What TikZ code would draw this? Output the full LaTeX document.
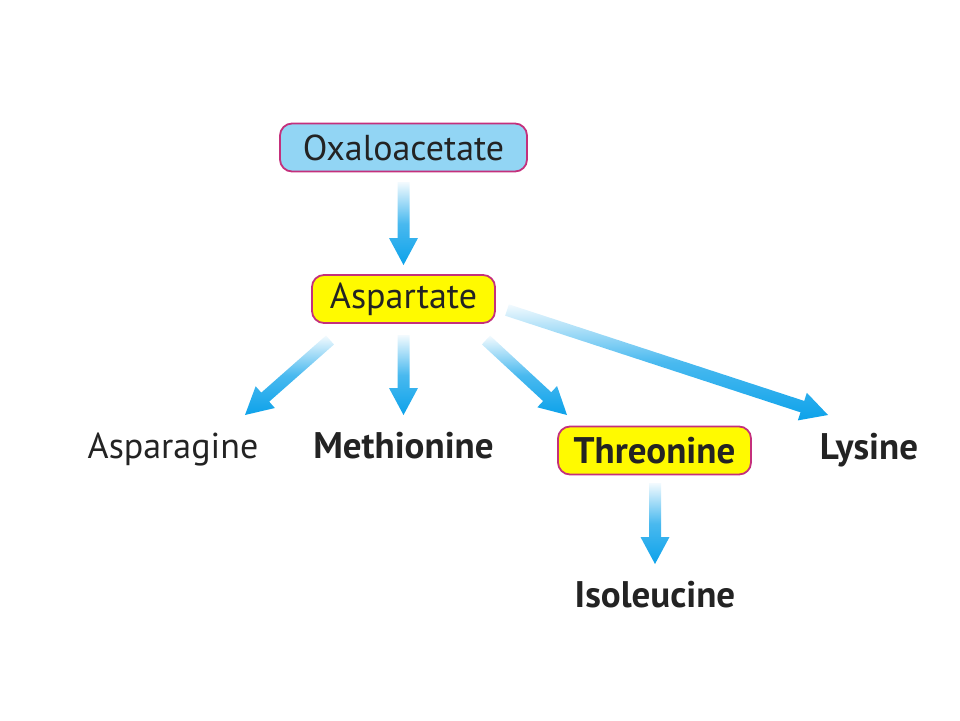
\documentclass[tikz,border=0pt]{standalone}
\usepackage{fontspec}
\setmainfont{PT Sans}
\usetikzlibrary{calc,positioning}
\definecolor{boxline}{HTML}{C4307C}
\definecolor{oxafill}{HTML}{92D5F4}
\definecolor{aspfill}{HTML}{FFFA00}
\definecolor{arrowblue}{HTML}{0DA2EA}
\definecolor{txt}{HTML}{232323}
\tikzset{
	every picture/.style={font=\fontsize{36}{42}\selectfont, text=txt},
	metabox/.style={draw=boxline, line width=1.8pt, rounded corners=12pt, minimum height=48pt, inner xsep=10pt},
	product/.style={inner sep=0pt, font=\fontsize{37}{42}\selectfont\bfseries}
}
% shaded block arrow from #1 to #2, #3 = shading angle
\newcommand{\gradarrow}[3]{%
	\coordinate (hb) at ($(#2)!27pt!(#1)$);
	\path[shade, shading angle=#3, top color=arrowblue!5, bottom color=arrowblue, middle color=arrowblue!75]
		($(#1)!6pt!-90:(#2)$) -- ($(hb)!6pt!90:(#1)$) -- ($(hb)!14.5pt!90:(#1)$) -- (#2)
		-- ($(hb)!14.5pt!-90:(#1)$) -- ($(hb)!6pt!-90:(#1)$) -- ($(#1)!6pt!90:(#2)$) -- cycle;
}

\begin{document}
\begin{tikzpicture}
		[x=1pt, y=-1pt]
		
		\useasboundingbox (0, 0) rectangle (960, 720);
		
		% boxes ----------------------------------------------
		\node[metabox, fill=oxafill, minimum width=247pt] (oxa) at (403.5, 147.5) {Oxaloacetate};
		\node[metabox, fill=aspfill, minimum width=183pt] (asp) at (403.5, 299) {Aspartate};
		\node[metabox, fill=aspfill, minimum width=193pt, font=\fontsize{37}{42}\selectfont\bfseries] (thr) at (654.5, 450.5) {Threonine};
		
		% products -------------------------------------------
		\node[product, font=\fontsize{36}{42}\selectfont, anchor=base] (asn) at (173, 458) {Asparagine};
		\node[product, anchor=base] (met) at (403.5, 458) {Methionine};
		\node[product, anchor=base] (lys) at (869, 459) {Lysine};
		\node[product, anchor=base] (ile) at (655, 607) {Isoleucine};
		
		% arrow ends -----------------------------------------
		\coordinate (oxa-s) at (403.5, 182);
		\coordinate (asp-t) at (403.5, 265);
		\coordinate (asn-s) at (330, 340);
		\coordinate (asn-t) at (245, 415);
		\coordinate (met-s) at (403.5, 335);
		\coordinate (met-t) at (403.5, 415);
		\coordinate (thr-s) at (486, 340);
		\coordinate (thr-t) at (567, 415);
		\coordinate (lys-s) at (507, 310);
		\coordinate (lys-t) at (828, 415);
		\coordinate (ile-s) at (655, 483);
		\coordinate (ile-t) at (655, 564);
		
		\gradarrow{oxa-s}{asp-t}{0}
		\gradarrow{asn-s}{asn-t}{-48.6}
		\gradarrow{met-s}{met-t}{0}
		\gradarrow{thr-s}{thr-t}{46.8}
		\gradarrow{lys-s}{lys-t}{71.9}
		\gradarrow{ile-s}{ile-t}{0}
		\end{tikzpicture}
\end{document}
